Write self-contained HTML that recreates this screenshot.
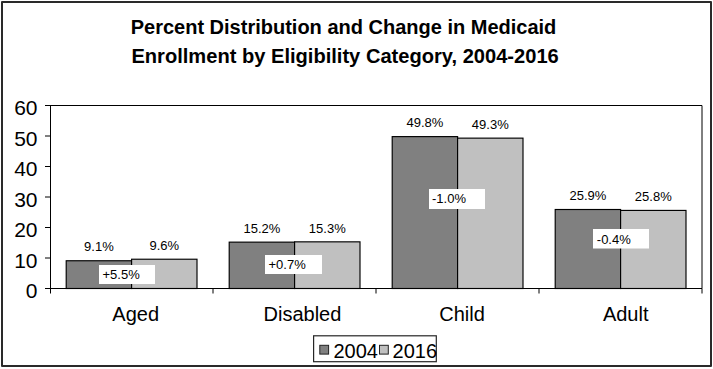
<!DOCTYPE html><html><head><meta charset="utf-8"><style>html,body{margin:0;padding:0;width:713px;height:369px;overflow:hidden;background:#fff;position:relative}</style></head><body><svg width="713" height="369" viewBox="0 0 713 369" style="position:absolute;left:0;top:0">
<rect x="0" y="0" width="713" height="369" fill="#fff"/>
<rect x="2" y="2" width="709" height="364" fill="none" stroke="#2a2a2a" stroke-width="2" stroke-linejoin="round"/>
<text x="343.5" y="33.6" text-anchor="middle" font-family='"Liberation Sans", sans-serif' font-weight="bold" font-size="20" fill="#000">Percent Distribution and Change in Medicaid</text>
<text x="345.1" y="63.1" text-anchor="middle" font-family='"Liberation Sans", sans-serif' font-weight="bold" font-size="20.1" fill="#000">Enrollment by Eligibility Category, 2004-2016</text>
<path d="M50 105.5 H702.0 V288.5" fill="none" stroke="#000" stroke-width="1"/>
<rect x="66.20" y="260.75" width="65.40" height="27.75" fill="#808080" stroke="#000" stroke-width="1.15"/>
<text x="98.90" y="251.44" text-anchor="middle" font-family='"Liberation Sans", sans-serif' font-size="13" fill="#000">9.1%</text>
<rect x="131.60" y="259.22" width="65.40" height="29.28" fill="#c0c0c0" stroke="#000" stroke-width="1.15"/>
<text x="164.30" y="249.92" text-anchor="middle" font-family='"Liberation Sans", sans-serif' font-size="13" fill="#000">9.6%</text>
<rect x="229.20" y="242.14" width="65.40" height="46.36" fill="#808080" stroke="#000" stroke-width="1.15"/>
<text x="261.90" y="232.84" text-anchor="middle" font-family='"Liberation Sans", sans-serif' font-size="13" fill="#000">15.2%</text>
<rect x="294.60" y="241.84" width="65.40" height="46.66" fill="#c0c0c0" stroke="#000" stroke-width="1.15"/>
<text x="327.30" y="232.53" text-anchor="middle" font-family='"Liberation Sans", sans-serif' font-size="13" fill="#000">15.3%</text>
<rect x="392.20" y="136.61" width="65.40" height="151.89" fill="#808080" stroke="#000" stroke-width="1.15"/>
<text x="424.90" y="127.31" text-anchor="middle" font-family='"Liberation Sans", sans-serif' font-size="13" fill="#000">49.8%</text>
<rect x="457.60" y="138.14" width="65.40" height="150.36" fill="#c0c0c0" stroke="#000" stroke-width="1.15"/>
<text x="490.30" y="128.84" text-anchor="middle" font-family='"Liberation Sans", sans-serif' font-size="13" fill="#000">49.3%</text>
<rect x="555.20" y="209.50" width="65.40" height="79.00" fill="#808080" stroke="#000" stroke-width="1.15"/>
<text x="587.90" y="200.20" text-anchor="middle" font-family='"Liberation Sans", sans-serif' font-size="13" fill="#000">25.9%</text>
<rect x="620.60" y="210.42" width="65.40" height="78.08" fill="#c0c0c0" stroke="#000" stroke-width="1.15"/>
<text x="653.30" y="201.12" text-anchor="middle" font-family='"Liberation Sans", sans-serif' font-size="13" fill="#000">25.8%</text>
<path d="M50.5 105.5 V293.5" stroke="#000" stroke-width="1"/>
<path d="M45 288.5 H702.0" stroke="#000" stroke-width="1"/>
<path d="M45 288.50 H50.5" stroke="#000" stroke-width="1"/>
<text x="37.5" y="298.00" text-anchor="end" font-family='"Liberation Sans", sans-serif' font-size="21" fill="#000">0</text>
<path d="M45 258.00 H50.5" stroke="#000" stroke-width="1"/>
<text x="37.5" y="267.50" text-anchor="end" font-family='"Liberation Sans", sans-serif' font-size="21" fill="#000">10</text>
<path d="M45 227.50 H50.5" stroke="#000" stroke-width="1"/>
<text x="37.5" y="237.00" text-anchor="end" font-family='"Liberation Sans", sans-serif' font-size="21" fill="#000">20</text>
<path d="M45 197.00 H50.5" stroke="#000" stroke-width="1"/>
<text x="37.5" y="206.50" text-anchor="end" font-family='"Liberation Sans", sans-serif' font-size="21" fill="#000">30</text>
<path d="M45 166.50 H50.5" stroke="#000" stroke-width="1"/>
<text x="37.5" y="176.00" text-anchor="end" font-family='"Liberation Sans", sans-serif' font-size="21" fill="#000">40</text>
<path d="M45 136.00 H50.5" stroke="#000" stroke-width="1"/>
<text x="37.5" y="145.50" text-anchor="end" font-family='"Liberation Sans", sans-serif' font-size="21" fill="#000">50</text>
<path d="M45 105.50 H50.5" stroke="#000" stroke-width="1"/>
<text x="37.5" y="115.00" text-anchor="end" font-family='"Liberation Sans", sans-serif' font-size="21" fill="#000">60</text>
<path d="M213.00 288.5 V293.5" stroke="#000" stroke-width="1"/>
<path d="M376.00 288.5 V293.5" stroke="#000" stroke-width="1"/>
<path d="M539.00 288.5 V293.5" stroke="#000" stroke-width="1"/>
<path d="M702.00 288.5 V293.5" stroke="#000" stroke-width="1"/>
<text x="112.30" y="321" font-family='"Liberation Sans", sans-serif' font-size="20" fill="#000">Aged</text>
<text x="263.50" y="321" font-family='"Liberation Sans", sans-serif' font-size="20" fill="#000">Disabled</text>
<text x="439.30" y="321" font-family='"Liberation Sans", sans-serif' font-size="20" fill="#000">Child</text>
<text x="602.90" y="321" font-family='"Liberation Sans", sans-serif' font-size="20" fill="#000">Adult</text>
<rect x="99" y="265" width="56" height="19" fill="#fff"/>
<text x="102.5" y="278.6" font-family='"Liberation Sans", sans-serif' font-size="13" fill="#000">+5.5%</text>
<rect x="265" y="255" width="57" height="19" fill="#fff"/>
<text x="268.5" y="269" font-family='"Liberation Sans", sans-serif' font-size="13" fill="#000">+0.7%</text>
<rect x="429" y="189" width="56" height="20" fill="#fff"/>
<text x="432" y="203" font-family='"Liberation Sans", sans-serif' font-size="13" fill="#000">-1.0%</text>
<rect x="593" y="229" width="56" height="19.5" fill="#fff"/>
<text x="596.8" y="243.8" font-family='"Liberation Sans", sans-serif' font-size="13" fill="#000">-0.4%</text>
<rect x="313.6" y="335.8" width="122.7" height="25.9" fill="#fff" stroke="#262626" stroke-width="1.2"/>
<rect x="319.8" y="345.3" width="8.8" height="8.8" fill="#808080" stroke="#222" stroke-width="1"/>
<text x="333.5" y="357.5" font-family='"Liberation Sans", sans-serif' font-size="20" fill="#000">2004</text>
<rect x="379.5" y="345.3" width="8.8" height="8.8" fill="#c0c0c0" stroke="#222" stroke-width="1"/>
<text x="392.6" y="357.5" font-family='"Liberation Sans", sans-serif' font-size="20" fill="#000">2016</text>
</svg></body></html>
